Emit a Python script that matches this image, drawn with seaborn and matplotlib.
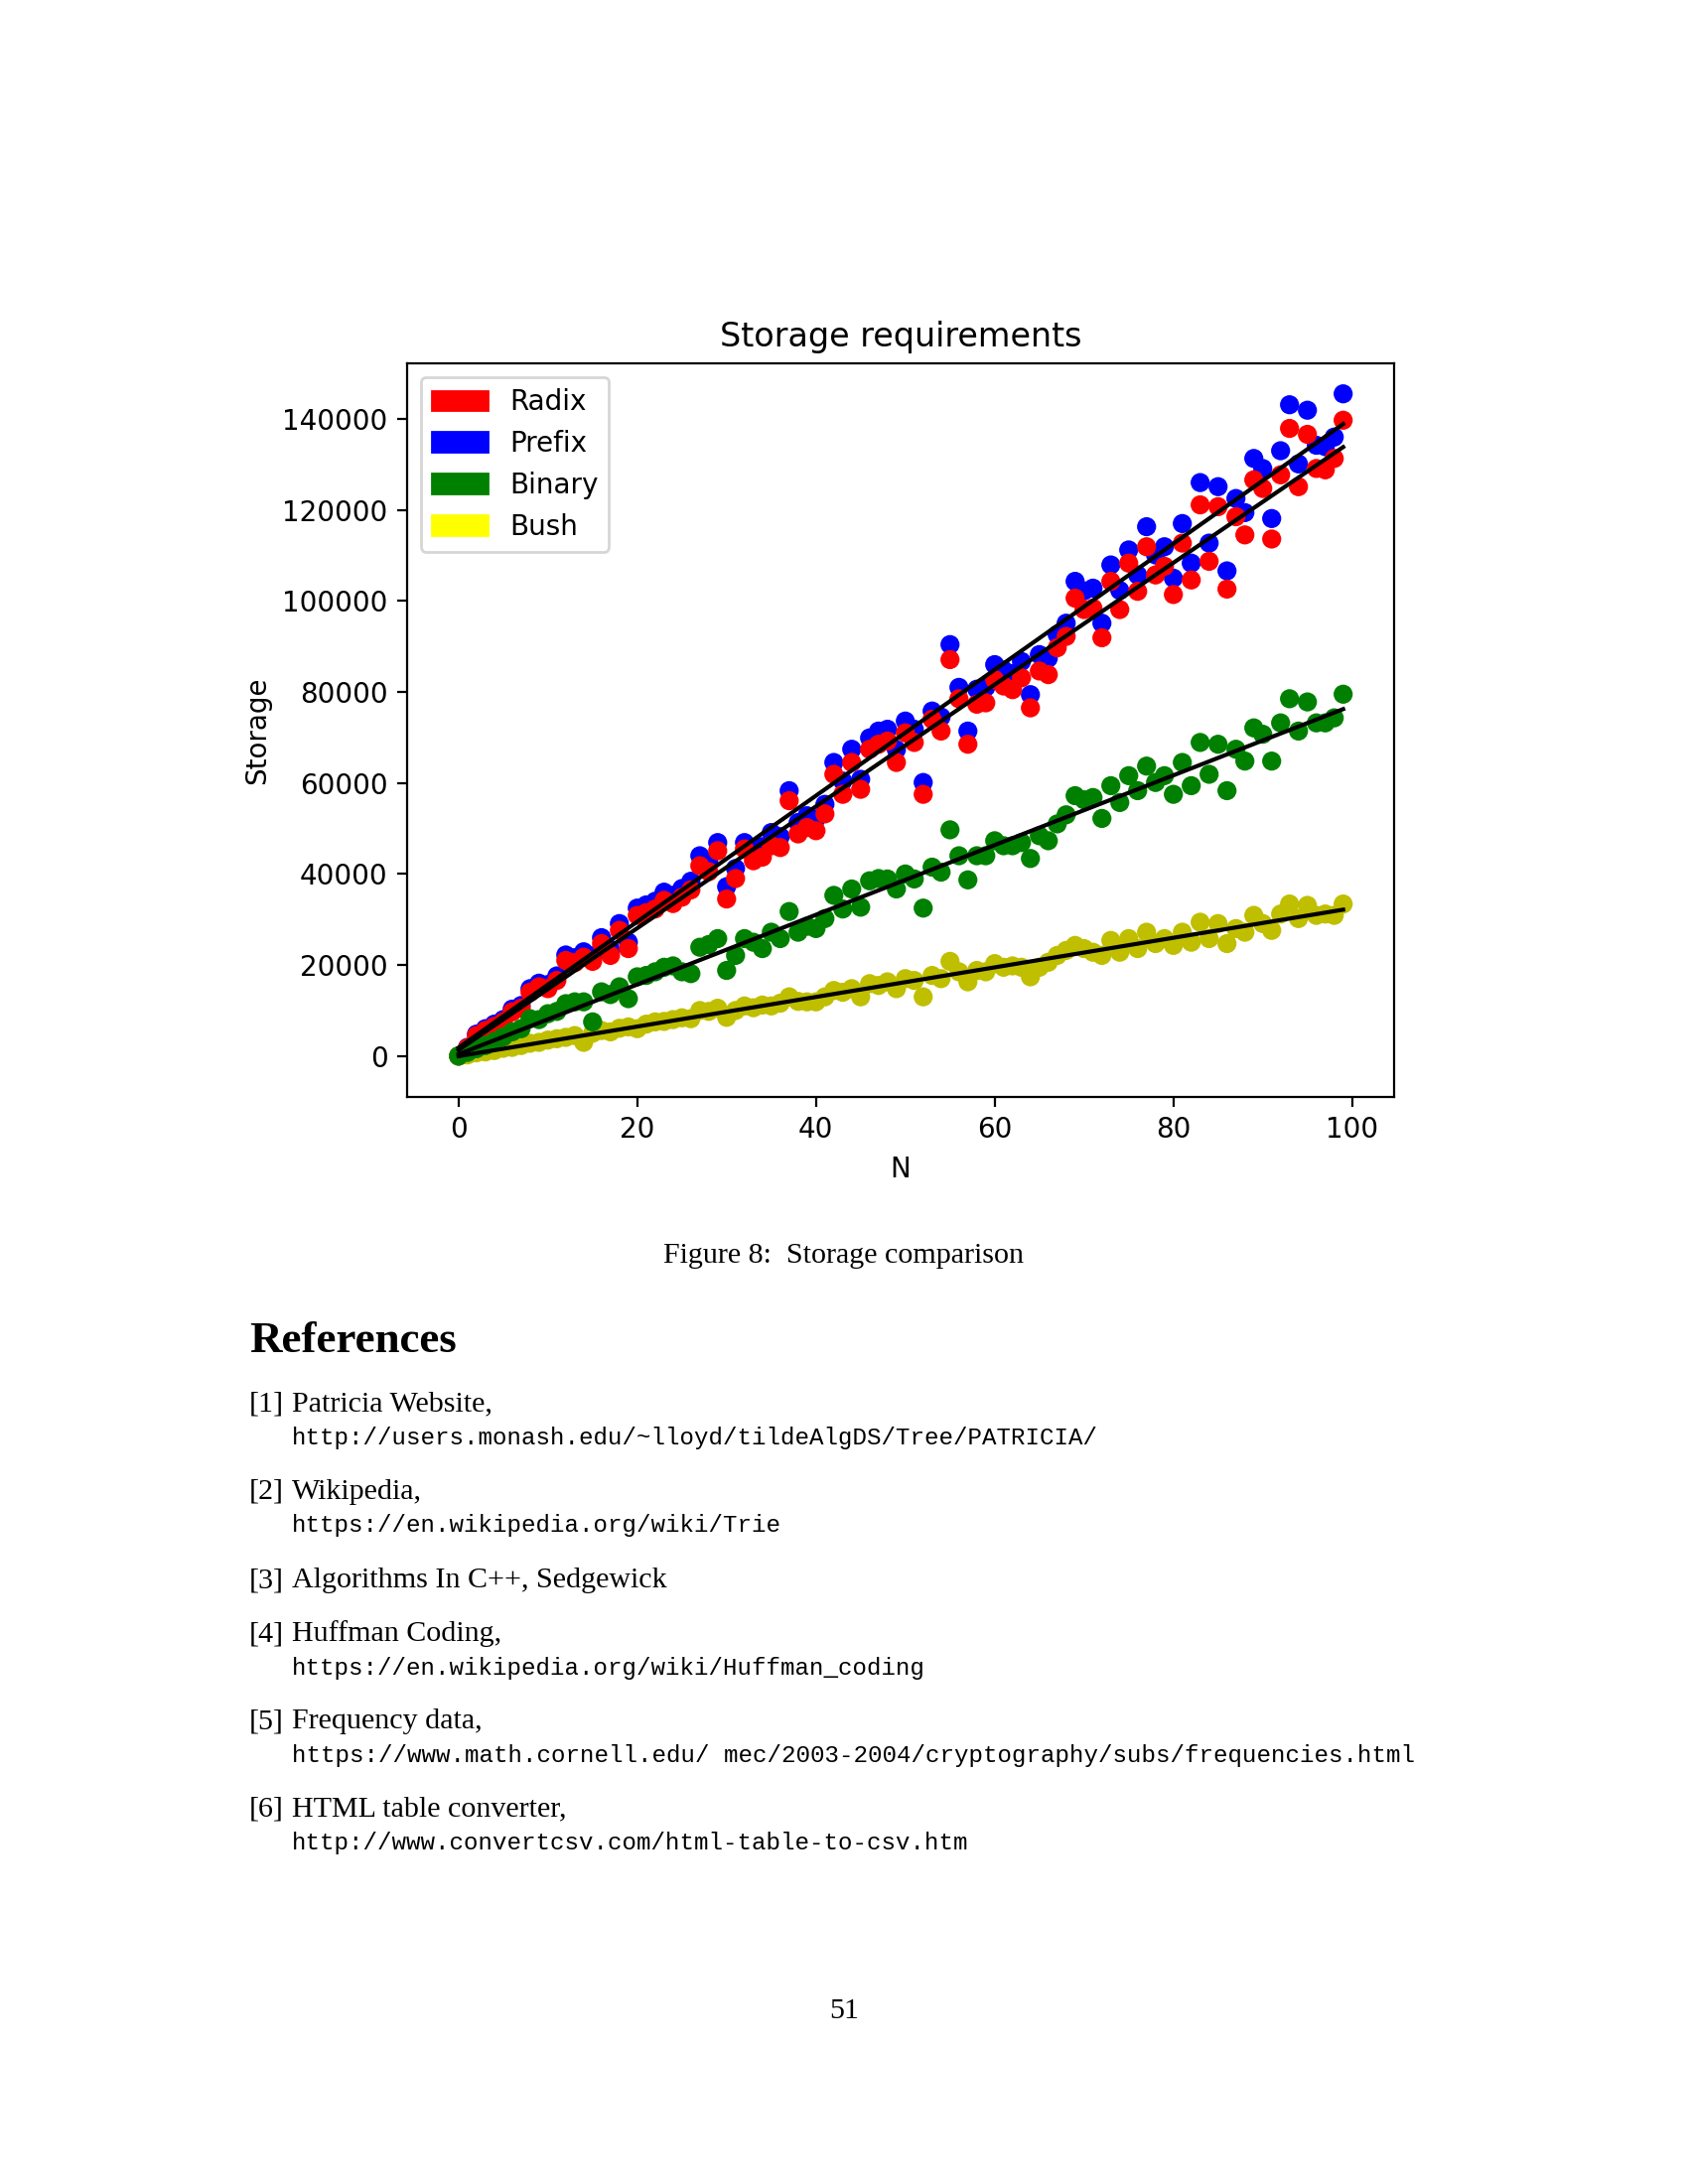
import numpy as np
import pandas as pd
import seaborn as sns
import matplotlib
matplotlib.use("Agg")
import matplotlib.pyplot as plt
import matplotlib.patches as mpatches

n_values = list(range(100))

radix = [
    0, 1800, 4500, 5600, 6500, 7500, 9700, 10500, 14000, 15200,
    14800, 16600, 21000, 20500, 21700, 20800, 24700, 22100, 27600, 23600,
    30900, 31500, 32300, 34200, 33500, 34900, 36500, 41800, 40500, 45100,
    34500, 39000, 45500, 42900, 43700, 46200, 45800, 56100, 48800, 50200,
    49500, 53200, 61900, 57500, 64500, 58600, 67400, 68500, 69200, 64500,
    71000, 68900, 57500, 74000, 71400, 87100, 78500, 68500, 77300, 77600,
    82700, 81300, 80500, 83100, 76500, 84600, 83800, 89700, 92200, 100600,
    98100, 98400, 91900, 104300, 98100, 108300, 102100, 111900, 105700, 107600,
    101400, 112700, 104600, 121100, 108700, 120700, 102600, 118500, 114500, 126600,
    124700, 113600, 127700, 137900, 125100, 136600, 129100, 128800, 131300, 139700,
]

prefix = [
    0, 1900, 4800, 6000, 7000, 8000, 10300, 11100, 14800, 16000,
    15700, 17600, 22200, 21600, 22900, 22000, 26000, 23400, 29100, 25000,
    32500, 33200, 34000, 36000, 35300, 36800, 38400, 44000, 42600, 46900,
    37200, 41200, 46900, 45100, 46000, 49100, 48200, 58300, 51300, 52800,
    52100, 55300, 64500, 60400, 67400, 60800, 69900, 71400, 71800, 67300,
    73600, 71800, 60100, 75800, 74500, 90400, 81000, 71400, 80600, 81000,
    86000, 84800, 84000, 86700, 79400, 88200, 87400, 92600, 95100, 104300,
    102200, 102800, 95100, 107900, 102300, 111200, 105700, 116300, 110100, 111900,
    105000, 117000, 108300, 126000, 112700, 125100, 106600, 122500, 119400, 131300,
    129100, 118100, 133000, 143100, 130100, 141900, 134200, 133900, 136000, 145500,
]

binary = [
    0, 800, 1600, 2300, 3200, 4200, 5300, 6000, 8200, 8000,
    9300, 9800, 11500, 11900, 11900, 7500, 14100, 13500, 15200, 12600,
    17400, 17700, 18500, 19500, 19800, 18500, 18100, 23900, 24500, 25800,
    18800, 22100, 25800, 25000, 23600, 27200, 25800, 31750, 27200, 28500,
    28000, 30200, 35300, 32300, 36700, 32700, 38500, 39000, 38900, 36700,
    40000, 38900, 32500, 41500, 40400, 49700, 44000, 38700, 44000, 44000,
    47300, 46200, 46200, 46900, 43400, 48400, 47300, 51000, 53000, 57200,
    56300, 56800, 52200, 59400, 55700, 61600, 58300, 63700, 60100, 61600,
    57500, 64500, 59400, 68900, 61900, 68500, 58300, 67400, 64800, 72100,
    70700, 64800, 73200, 78500, 71400, 77800, 73200, 73200, 74300, 79500,
]

bush = [
    0, 250, 700, 900, 1200, 1700, 1900, 2300, 2800, 3000,
    3500, 3800, 4100, 4500, 3000, 5000, 5600, 5300, 6100, 6400,
    6000, 7000, 7500, 7600, 8000, 8400, 8200, 10000, 9800, 10500,
    8500, 10000, 11000, 10600, 11200, 11000, 11600, 13000, 12000, 11900,
    11900, 13000, 14400, 14000, 14800, 13000, 15900, 15500, 16300, 14800,
    17000, 16600, 13000, 17700, 17000, 20800, 18500, 16300, 18800, 18500,
    20300, 19500, 19800, 19500, 17400, 19500, 20600, 22100, 23200, 24300,
    23600, 22800, 22100, 25400, 22800, 25800, 23600, 27200, 24700, 25800,
    24300, 27200, 25000, 29400, 25800, 29100, 24700, 28000, 27200, 30900,
    29100, 27600, 31200, 33400, 30200, 33100, 30900, 31200, 30900, 33400,
]

df = pd.DataFrame({"N": n_values, "Radix": radix, "Prefix": prefix,
                   "Binary": binary, "Bush": bush})

# the chart is embedded at its natural size in a 200 dpi page
plt.rcParams.update({
    "font.family": ["DejaVu Sans"],
    "font.size": 10,
})

W, H = 1700, 2200
fig = plt.figure(figsize=(8.5, 11), dpi=200)
ax = fig.add_axes([410 / W, 1 - (366 + 739) / H, 994 / W, 739 / H])

# scatter: blue under red, then bush and binary
scatter_order = [("Prefix", "b"), ("Radix", "r"), ("Bush", "y"), ("Binary", "g")]
for col, c in scatter_order:
    sns.scatterplot(data=df, x="N", y=col, color=c, s=48, linewidth=0,
                    edgecolor="none", ax=ax, zorder=2)

# least squares fit line for each series
for col in ["Radix", "Prefix", "Binary", "Bush"]:
    sns.regplot(data=df, x="N", y=col, scatter=False, ci=None, color="k",
                line_kws={"lw": 1.5, "zorder": 3}, ax=ax)

ax.set_xlim(-5.76, 104.7)
ax.set_ylim(-9000, 152200)
ax.set_title("Storage requirements", fontsize=12)
ax.set_xlabel("N", fontsize=10)
ax.set_ylabel("Storage", fontsize=10)
ax.set_xticks([0, 20, 40, 60, 80, 100])
ax.set_yticks(range(0, 140001, 20000))
ax.tick_params(labelsize=10)

handles = [mpatches.Patch(color="red", label="Radix"),
           mpatches.Patch(color="blue", label="Prefix"),
           mpatches.Patch(color="green", label="Binary"),
           mpatches.Patch(color="yellow", label="Bush")]
ax.legend(handles=handles, loc="upper left", fontsize=10)

# page text around the figure
serif = ["Liberation Serif", "DejaVu Serif"]
mono = ["Liberation Mono", "DejaVu Sans Mono"]


def put(x, y, s, **kw):
    fig.text(x / W, 1 - y / H, s, va="center", **kw)


put(850, 1265, "Figure 8:  Storage comparison", ha="center", family=serif, fontsize=10.8)
put(251, 1351, "References", ha="left", family=serif, fontsize=16.2, fontweight="bold")

refs = [
    (1414, "[1]", "Patricia Website,",
     "http://users.monash.edu/~lloyd/tildeAlgDS/Tree/PATRICIA/"),
    (1503, "[2]", "Wikipedia,", "https://en.wikipedia.org/wiki/Trie"),
    (1592, "[3]", "Algorithms In C++, Sedgewick", None),
    (1646, "[4]", "Huffman Coding,", "https://en.wikipedia.org/wiki/Huffman_coding"),
    (1734, "[5]", "Frequency data,",
     "https://www.math.cornell.edu/ mec/2003-2004/cryptography/subs/frequencies.html"),
    (1822, "[6]", "HTML table converter,",
     "http://www.convertcsv.com/html-table-to-csv.htm"),
]
for y, tag, title, url in refs:
    put(251, y, tag, ha="left", family=serif, fontsize=10.8)
    put(294, y, title, ha="left", family=serif, fontsize=10.8)
    if url:
        put(294, y + 34, url, ha="left", family=mono, fontsize=8.7)

put(850, 2026, "51", ha="center", family=serif, fontsize=10.8)

fig.savefig("out.png", dpi=200)
